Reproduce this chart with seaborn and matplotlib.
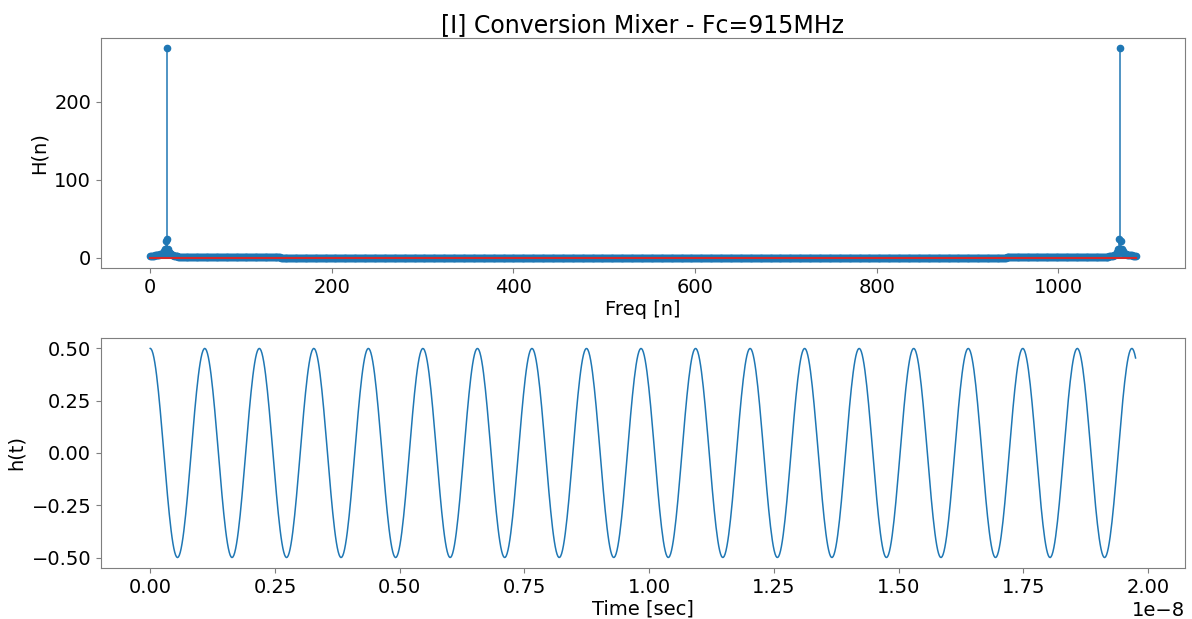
import numpy as np
import pandas as pd
import matplotlib
matplotlib.use("Agg")
import matplotlib.pyplot as plt
import seaborn as sns

# Values
carrier_hz = 915e6          # from title "Fc=915MHz"
amplitude = 0.5             # h(t) peaks at +/-0.5
n_samples = 1086            # last stem index ~1085
duration = 1.9747e-8        # last time sample ~1.975e-8 s (ends at h~0.455)
title = "[I] Conversion Mixer - Fc=915MHz"

t = np.linspace(0, duration, n_samples)
h = amplitude * np.cos(2 * np.pi * carrier_hz * t)
H = np.abs(np.fft.fft(h))
n = np.arange(n_samples)

df_t = pd.DataFrame({"t": t, "h": h})

plt.rcParams["font.family"] = ["DejaVu Sans"]
fig = plt.figure(figsize=(11.92, 6.19), dpi=100)
ax1 = fig.add_axes([0.0847, 0.567, 0.9093, 0.3719])
ax2 = fig.add_axes([0.0847, 0.0824, 0.9093, 0.3716])

m, s, b = ax1.stem(n, H)
plt.setp(m, markersize=4.5)
plt.setp(s, linewidth=1.1)
plt.setp(b, linewidth=1.5)
ax1.set_ylabel("H(n)", fontsize=14)
ax1.set_xlabel("Freq [n]", fontsize=14, labelpad=2)
ax1.set_title(title, fontsize=17, pad=4)
ax1.tick_params(labelsize=14)

sns.lineplot(data=df_t, x="t", y="h", ax=ax2, estimator=None, linewidth=1.1, color="C0")
ax2.set_ylabel("h(t)", fontsize=14)
ax2.set_xlabel("Time [sec]", fontsize=14, labelpad=2)
ax2.tick_params(labelsize=14)
ax2.xaxis.get_offset_text().set_fontsize(14)

for ax in (ax1, ax2):
    for sp in ax.spines.values():
        sp.set_color("#7f7f7f")
    ax.tick_params(color="#7f7f7f")

fig.savefig("out.png", dpi=100)
